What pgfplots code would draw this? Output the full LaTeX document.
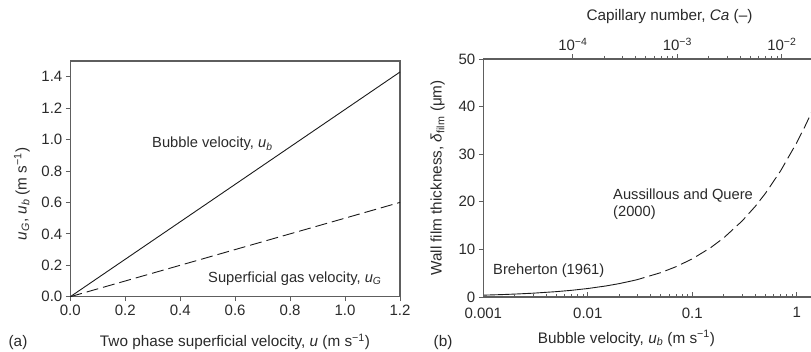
\documentclass[border=0pt]{standalone}
\usepackage{fontspec}
\setmainfont{Liberation Sans}
\usepackage{pgfplots}
\pgfplotsset{compat=1.18}
\definecolor{axgray}{HTML}{5E5E5E}
\definecolor{txt}{HTML}{2A2A2A}
\definecolor{ln}{HTML}{1A1A1A}
\newcommand{\fs}{\fontsize{15.3}{17}\selectfont}
\newcommand{\fa}{\fontsize{14.7}{17}\selectfont}
\newcommand{\ft}{\fontsize{15}{17}\selectfont}
\pgfplotsset{
  every axis/.append style={
    /pgf/number format/assume math mode=true,
    tick label style={font=\ft, text=txt},
    axis line style={draw=axgray, line width=1.1pt},
    major tick length=4.5pt, minor tick length=3pt,
    tick style={draw=axgray, line width=0.9pt},
  },
}
\begin{document}
\begin{tikzpicture}
\path[use as bounding box] (0pt,0pt) rectangle (811pt,351pt);

% ---------- panel (a)
\begin{axis}[at={(70.3pt,54.3pt)}, anchor=south west, scale only axis,
  width=329.7pt, height=235.7pt,
  xmin=0, xmax=1.2, ymin=0, ymax=1.5,
  xtick={0,0.2,0.4,0.6,0.8,1.0,1.2},
  xticklabels={0.0,0.2,0.4,0.6,0.8,1.0,1.2},
  ytick={0,0.2,0.4,0.6,0.8,1.0,1.2,1.4},
  yticklabels={0.0,0.2,0.4,0.6,0.8,1.0,1.2,1.4},
  tick align=outside, xtick pos=bottom, ytick pos=left,
]
\addplot[ln, line width=0.9pt] coordinates {(0,0) (1.2,1.43)};
\addplot[ln, line width=0.9pt, dash pattern=on 12pt off 5pt] coordinates {(0,0) (1.2,0.60)};
\end{axis}

% ---------- panel (b) main
\begin{axis}[at={(483.3pt,54pt)}, anchor=south west, scale only axis,
  width=329.4pt, height=238pt,
  xmode=log, xmin=0.001, xmax=1.42, ymin=0, ymax=50,
  xtick={0.001,0.01,0.1,1}, xticklabels={0.001,0.01,0.1,1},
  xticklabel style={yshift=-2.5pt},
  ytick={0,10,20,30,40,50},
  tick align=outside, xtick pos=bottom, ytick pos=left,
  major x tick style={draw=none}, xminorticks=false,
]
\addplot[ln, line width=0.9pt] coordinates {
(0.001,0.387) (0.0015,0.506) (0.002,0.613) (0.003,0.802) (0.005,1.126)
(0.007,1.407) (0.01,1.782) (0.015,2.328) (0.02,2.814) (0.027,3.43)};
\addplot[ln, line width=0.9pt, dash pattern=on 12pt off 5pt] coordinates {
(0.027,3.43) (0.03,3.671) (0.05,5.122) (0.07,6.369) (0.1,8.011) (0.15,10.368)
(0.2,12.424) (0.3,15.972) (0.4,19.027) (0.5,21.747) (0.7,26.492)
(1.0,32.45) (1.2,35.89) (1.42,39.3)};
\end{axis}

% ---------- panel (b) bottom ticks pointing inwards
\begin{axis}[at={(483.3pt,54pt)}, anchor=south west, scale only axis,
  width=329.4pt, height=238pt,
  xmode=log, xmin=0.001, xmax=1.42, ymin=0, ymax=50,
  hide y axis,
  xtick={0.001,0.01,0.1,1}, xticklabels={},
  tick align=inside, xtick pos=bottom,
]
\end{axis}

% ---------- panel (b) top axis: capillary number
\begin{axis}[at={(483.3pt,54pt)}, anchor=south west, scale only axis,
  width=329.4pt, height=238pt,
  xmode=log, xmin=1.39e-5, xmax=0.019738, ymin=0, ymax=50,
  hide y axis,
  xtick={1e-4,1e-3,1e-2},
  xticklabels={10\textsuperscript{−4},10\textsuperscript{−3},10\textsuperscript{−2}},
  tick align=outside, xtick pos=top, xticklabel pos=top,
]
\end{axis}

% ---------- labels
\begin{scope}[every node/.style={font=\fs, text=txt, inner sep=0pt}]
\node[anchor=base] at (235pt,4.5pt) {Two phase superficial velocity, \textit{u} (m s\textsuperscript{−1})};
\node[anchor=base, rotate=90] at (26.5pt,157pt) {\textit{u}\textsubscript{\textit{G}}, \textit{u}\textsubscript{\textit{b}} (m s\textsuperscript{−1})};
\node[anchor=base west, font=\fa] at (152pt,203pt) {Bubble velocity, \textit{u}\textsubscript{\textit{b}}};
\node[anchor=base west, font=\fa] at (208pt,69pt) {Superficial gas velocity, \textit{u}\textsubscript{\textit{G}}};
\node[anchor=base] at (18pt,4.5pt) {(a)};

\node[anchor=base] at (626.5pt,8pt) {Bubble velocity, \textit{u}\textsubscript{\textit{b}} (m s\textsuperscript{−1})};
\node[anchor=base] at (669.5pt,330.3pt) {Capillary number, \textit{Ca} (–)};
\node[anchor=base, rotate=90] at (441.5pt,173pt) {Wall film thickness, \textit{δ}\textsubscript{film} (μm)};
\node[anchor=base west, font=\fa] at (613pt,151pt) {Aussillous and Quere};
\node[anchor=base west, font=\fa] at (613pt,134pt) {(2000)};
\node[anchor=base west, font=\fa] at (493pt,77pt) {Breherton (1961)};
\node[anchor=base] at (443pt,5pt) {(b)};
\end{scope}
\end{tikzpicture}
\end{document}
